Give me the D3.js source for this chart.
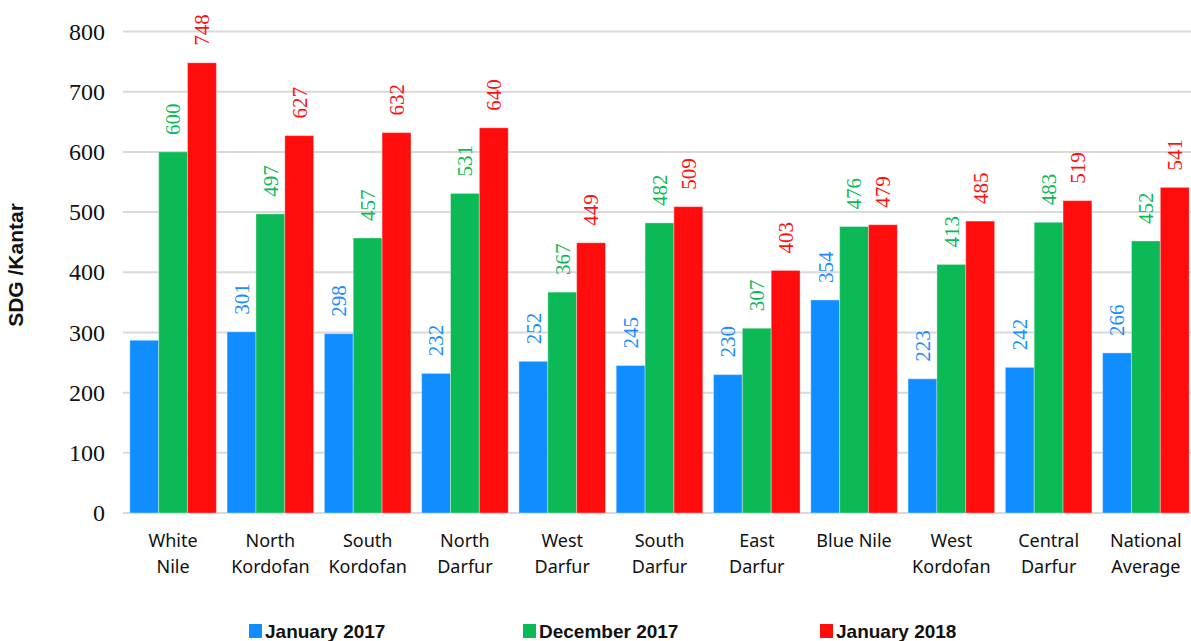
<!DOCTYPE html>
<html>
<head>
<meta charset="utf-8">
<script src="https://cdn.jsdelivr.net/npm/d3@7"></script>
<style>
  body { margin: 0; background: #fff; }
  svg { display: block; }
</style>
</head>
<body>
<div id="chart"></div>
<script>
const regions = ["White Nile", "North Kordofan", "South Kordofan", "North Darfur", "West Darfur",
  "South Darfur", "East Darfur", "Blue Nile", "West Kordofan", "Central Darfur", "National Average"];
const regionLines = [["White", "Nile"], ["North", "Kordofan"], ["South", "Kordofan"], ["North", "Darfur"],
  ["West", "Darfur"], ["South", "Darfur"], ["East", "Darfur"], ["Blue Nile"], ["West", "Kordofan"],
  ["Central", "Darfur"], ["National", "Average"]];
const seriesNames = ["January 2017", "December 2017", "January 2018"];
const jan2017 = [287, 301, 298, 232, 252, 245, 230, 354, 223, 242, 266];
const dec2017 = [600, 497, 457, 531, 367, 482, 307, 476, 413, 483, 452];
const jan2018 = [748, 627, 632, 640, 449, 509, 403, 479, 485, 519, 541];
const yTicks = [0, 100, 200, 300, 400, 500, 600, 700, 800];
// the source chart leaves this one bar without a label
const unlabelled = ["January 2017|White Nile"];

const barColors = ["#108eff", "#0cb957", "#ff0c0c"];
const labelColors = ["#1a8cff", "#0cb957", "#ff1010"];

const width = 1191, height = 641;
const svg = d3.select("#chart").append("svg").attr("width", width).attr("height", height);

const seriesValues = [jan2017, dec2017, jan2018];
const rows = regions.map((r, i) => ({ region: r, lines: regionLines[i],
  values: seriesNames.map((s, j) => ({ series: s, idx: j, region: r, value: seriesValues[j][i] })) }));

const x = d3.scaleBand().domain(regions).range([123, 1196]).paddingInner(0.11).paddingOuter(0.07);
const xs = d3.scaleBand().domain(seriesNames).range([0, x.bandwidth()]);
const y = d3.scaleLinear().domain([0, 800]).range([513, 31.5]);

// gridlines
svg.append("g").selectAll("line").data(yTicks).join("line")
  .attr("x1", 123).attr("x2", width)
  .attr("y1", d => y(d)).attr("y2", d => y(d))
  .attr("stroke", "#d9d9d9").attr("stroke-width", 2);

// y axis labels
const yAxis = svg.append("g").attr("transform", "translate(105,0)")
  .call(d3.axisLeft(y).tickValues(yTicks).tickSize(0).tickPadding(0));
yAxis.select(".domain").remove();
yAxis.selectAll("text")
  .attr("font-family", "'Liberation Serif', serif").attr("font-size", 24).attr("fill", "#111");

svg.append("text")
  .attr("transform", "translate(23,265) rotate(-90)")
  .attr("text-anchor", "middle")
  .attr("font-family", "'Liberation Sans', Arial, sans-serif").attr("font-weight", "bold")
  .attr("font-size", 21).attr("fill", "#111")
  .text("SDG /Kantar");

// bars
const groups = svg.append("g").selectAll("g").data(rows).join("g")
  .attr("transform", d => `translate(${x(d.region)},0)`);

groups.selectAll("rect").data(d => d.values).join("rect")
  .attr("x", d => xs(d.series)).attr("width", xs.bandwidth())
  .attr("y", d => y(d.value)).attr("height", d => y(0) - y(d.value))
  .attr("fill", d => barColors[d.idx])
  .attr("stroke", "rgba(255,255,255,0.35)").attr("stroke-width", 1);

groups.selectAll("text").data(d => d.values.filter(v => !unlabelled.includes(v.series + "|" + v.region))).join("text")
  .attr("transform", d => `translate(${xs(d.series) + xs.bandwidth() / 2},${y(d.value) - 17}) rotate(-90)`)
  .attr("dy", "0.35em")
  .attr("font-family", "'Liberation Serif', serif").attr("font-size", 21)
  .attr("fill", d => labelColors[d.idx])
  .text(d => d.value);

// category labels
const catLabels = svg.append("g").selectAll("text").data(rows).join("text")
  .attr("text-anchor", "middle")
  .attr("font-family", "'Noto Sans', sans-serif").attr("font-size", 18).attr("fill", "#111");
catLabels.selectAll("tspan").data(d => d.lines.map(l => ({ l, cx: x(d.region) + x.bandwidth() / 2 }))).join("tspan")
  .attr("x", d => d.cx).attr("y", (d, i) => 547 + i * 26)
  .text(d => d.l);

// legend
const legendX = [249, 523, 820];
const legend = svg.append("g").selectAll("g").data(seriesNames).join("g")
  .attr("transform", (d, i) => `translate(${legendX[i]},0)`);
legend.append("rect").attr("x", 0).attr("y", 624).attr("width", 13).attr("height", 14)
  .attr("fill", (d, i) => barColors[i]);
legend.append("text").attr("x", 16).attr("y", 638)
  .attr("font-family", "'Liberation Sans', Arial, sans-serif").attr("font-weight", "bold")
  .attr("font-size", 19).attr("fill", "#111")
  .text(d => d);
</script>
</body>
</html>
